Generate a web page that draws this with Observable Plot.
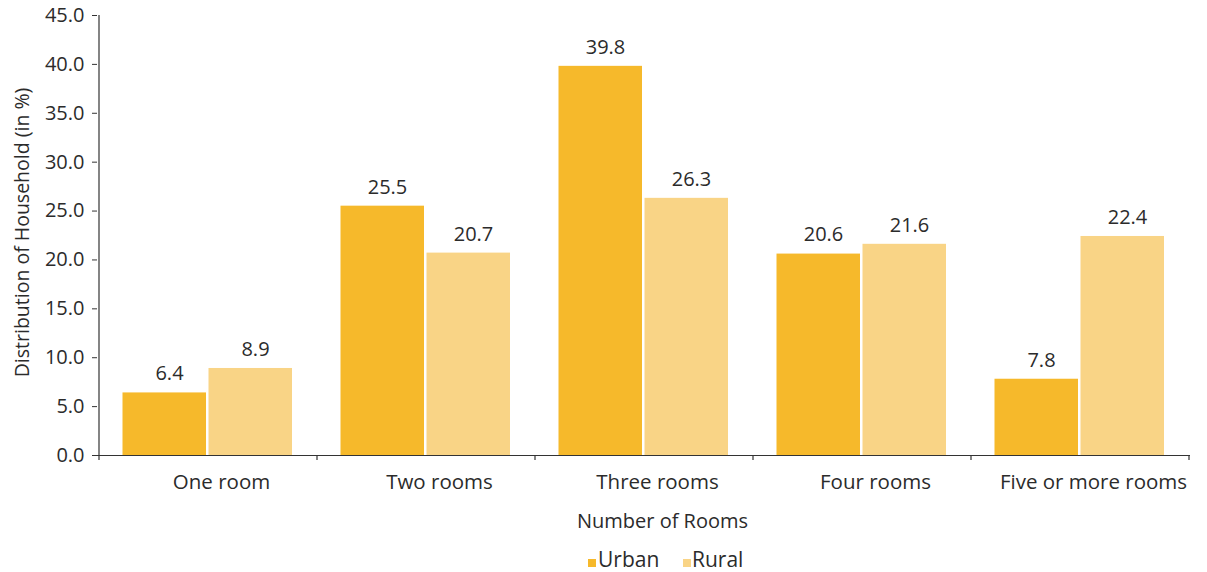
<!DOCTYPE html>
<html><head><meta charset="utf-8">
<script src="https://cdn.jsdelivr.net/npm/d3@7"></script>
<script src="https://cdn.jsdelivr.net/npm/@observablehq/plot@0.6"></script>
<style>
body{margin:0;background:#fff;font-family:"Open Sans",sans-serif;color:#2b2b2b}
#wrap{position:relative;width:1207px;height:572px;overflow:hidden}
#legend{position:absolute;left:0;top:540px;width:1207px;height:32px}
.sw{position:absolute;width:8px;height:8px;top:19px}
.lt{position:absolute;font-size:21px;line-height:21px;top:9px;white-space:nowrap}
</style>
</head><body>
<div id="wrap"><div id="chart"></div><div id="legend"></div></div>
<script>
const categories = ["One room", "Two rooms", "Three rooms", "Four rooms", "Five or more rooms"];
const urban = [6.4, 25.5, 39.8, 20.6, 7.8];
const rural = [8.9, 20.7, 26.3, 21.6, 22.4];
const series = ["Urban", "Rural"];
const colors = ["#F6B92B", "#F9D486"];
const yTicks = [0, 5, 10, 15, 20, 25, 30, 35, 40, 45];
const xTitle = "Number of Rooms";
const yTitle = "Distribution of Household (in %)";

const ink = "#2b2b2b";
const urbanRows = categories.map((c, i) => ({cat: c, s: series[0], v: urban[i]}));
const ruralRows = categories.map((c, i) => ({cat: c, s: series[1], v: rural[i]}));

function axisLines(index, scales) {
  const {x, y} = scales;
  const bw = x.bandwidth();
  const edges = categories.map(c => x(c)).concat([x(categories[categories.length - 1]) + bw]);
  const g = d3.create("svg:g").attr("stroke", "#333").attr("stroke-width", 1.2);
  const y0 = y(0);
  for (const e of edges) g.append("line").attr("x1", e).attr("x2", e).attr("y1", y0).attr("y2", y0 + 5);
  g.append("line").attr("x1", edges[0]).attr("x2", edges[0]).attr("y1", y(45)).attr("y2", y0);
  return g.node();
}

const chart = Plot.plot({
  width: 1207,
  height: 540,
  marginTop: 15,
  marginBottom: 85,
  marginLeft: 97,
  marginRight: 17,
  x: {domain: categories, padding: 0, axis: null, label: null},
  y: {domain: [0, 45], axis: null, label: null},
  color: {domain: series, range: colors},
  style: {fontFamily: '"Open Sans", sans-serif', fontSize: "20px", color: ink, background: "#fff"},
  marks: [
    Plot.barY(urbanRows, {x: "cat", y: "v", fill: "s", insetLeft: 23.5, insetRight: 111}),
    Plot.barY(ruralRows, {x: "cat", y: "v", fill: "s", insetLeft: 109.5, insetRight: 25}),
    Plot.text(urbanRows, {x: "cat", y: "v", text: d => d.v.toFixed(1), dx: -39, dy: -19, fontSize: 20, fill: ink}),
    Plot.text(ruralRows, {x: "cat", y: "v", text: d => d.v.toFixed(1), dx: 47, dy: -19, fontSize: 20, fill: ink}),
    Plot.ruleY([0], {stroke: "#333", strokeWidth: 1.2}),
    axisLines,
    Plot.axisY(yTicks, {label: null, tickSize: 5, tickPadding: 8, tickFormat: d => d.toFixed(1), fontSize: 20, stroke: "#333", fill: ink}),
    Plot.axisX(categories, {label: null, tickSize: 0, tickPadding: 18.5, dx: 13, fontSize: 20.5, fill: ink}),
    Plot.text([xTitle], {text: d => d, frameAnchor: "bottom", dy: 72, dx: 18.5, fontSize: 20, fill: ink}),
    Plot.text([yTitle], {text: d => d, frameAnchor: "left", textAnchor: "middle", rotate: -90, dx: -75, dy: -3, fontSize: 19.5, fill: ink})
  ]
});
document.getElementById("chart").appendChild(chart);

const legend = document.getElementById("legend");
const legendPos = [{sw: 588, tx: 598}, {sw: 683, tx: 692}];
series.forEach((s, i) => {
  const sw = document.createElement("div");
  sw.className = "sw"; sw.style.left = legendPos[i].sw + "px"; sw.style.background = colors[i];
  const t = document.createElement("div");
  t.className = "lt"; t.style.left = legendPos[i].tx + "px"; t.textContent = s;
  legend.appendChild(sw); legend.appendChild(t);
});
</script>
</body></html>
